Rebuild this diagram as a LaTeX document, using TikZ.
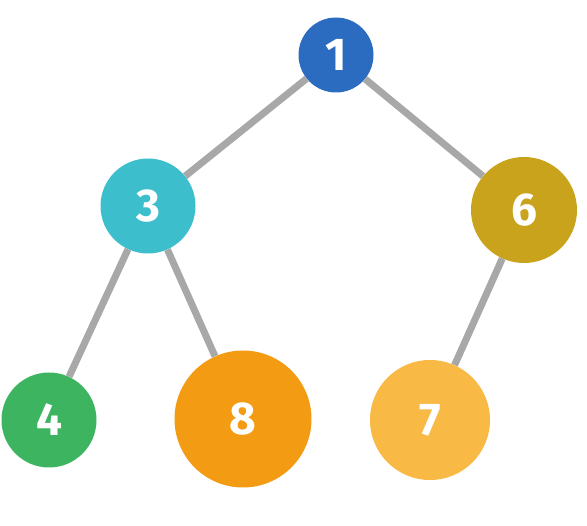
\documentclass[tikz,border=0pt]{standalone}
\usepackage{fontspec}
\setmainfont{Fira Sans}
\usepackage{tikz}
\usetikzlibrary{positioning}

\definecolor{edgegray}{HTML}{A8A8A8}
\definecolor{cblue}{HTML}{2B6CC0}
\definecolor{ccyan}{HTML}{3DBECD}
\definecolor{cgold}{HTML}{C9A31C}
\definecolor{cgreen}{HTML}{3DB460}
\definecolor{corange}{HTML}{F39B12}
\definecolor{clight}{HTML}{F8B945}

\begin{document}
\begin{tikzpicture}[x=1pt, y=-1pt,
    vertex/.style={circle, inner sep=0pt, text=white,
        font=\fontsize{46}{46}\selectfont\bfseries},
    edge/.style={edgegray, line width=7pt}]
    % Fixed frame of the figure
    \useasboundingbox (0,0) rectangle (587,526);

    % Tree nodes
    \node[vertex, fill=cblue, minimum size=75pt] (n1) at (336,55) {1};
    \node[vertex, fill=ccyan, minimum size=95pt] (n3) at (148,206) {3};
    \node[vertex, fill=cgold, minimum size=106pt] (n6) at (524,210) {6};
    \node[vertex, fill=cgreen, minimum size=95pt] (n4) at (49,420) {4};
    \node[vertex, fill=corange, minimum size=137pt] (n8) at (243,419) {8};
    \node[vertex, fill=clight, minimum size=120pt] (n7) at (430,420) {7};

    % Edges
    \foreach \a/\b in {n1/n3, n1/n6, n3/n4, n3/n8, n6/n7} {
        \draw[edge] (\a) -- (\b);
    }
\end{tikzpicture}
\end{document}
